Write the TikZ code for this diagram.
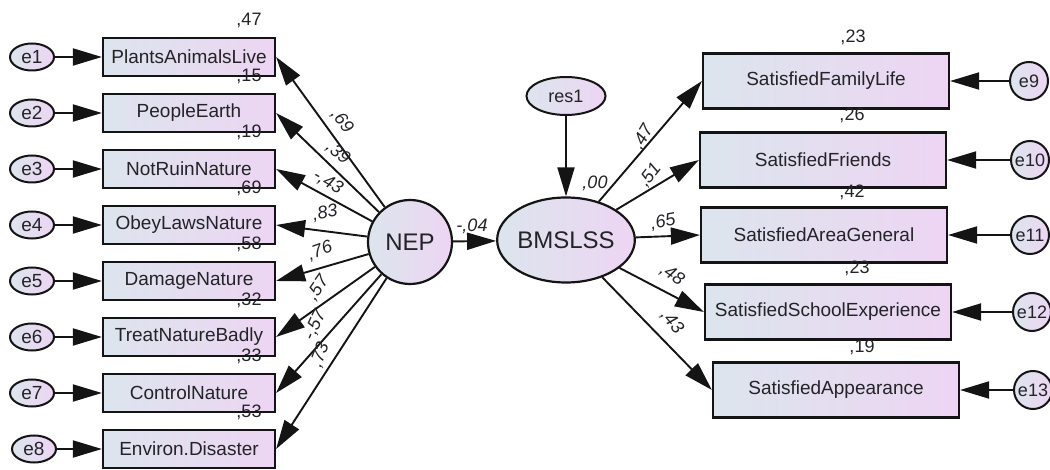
\documentclass[tikz,border=0pt]{standalone}
\usepackage{fontspec}
\setmainfont{Liberation Sans}
\usetikzlibrary{arrows.meta,shapes.geometric}
\definecolor{fillL}{RGB}{220,229,237}
\definecolor{fillR}{RGB}{237,213,243}
\definecolor{ln}{RGB}{20,20,20}
\definecolor{tx}{RGB}{35,35,40}
\begin{document}
\begin{tikzpicture}[x=1pt,y=-1pt,
  obsL/.style={draw=ln, line width=2.2pt, left color=fillL, right color=fillR, minimum width=172pt, minimum height=38pt, inner sep=0pt, text=tx, font=\fontsize{19}{22}\selectfont},
  obsR/.style={obsL, minimum width=246pt, minimum height=55pt},
  errL/.style={ellipse, draw=ln, line width=2pt, left color=fillL, right color=fillR, minimum width=44pt, minimum height=27pt, inner sep=0pt, text=tx, font=\fontsize{19}{22}\selectfont},
  errR/.style={circle, draw=ln, line width=2pt, left color=fillL, right color=fillR, minimum size=38pt, inner sep=0pt, text=tx, font=\fontsize{18}{22}\selectfont},
  lat/.style={draw=ln, line width=2.2pt, left color=fillL, right color=fillR, inner sep=0pt, text=tx, font=\fontsize{24}{28}\selectfont},
  arr/.style={line width=1.9pt, draw=ln, -{Triangle[length=29pt,width=17pt]}},
  lab/.style={font=\fontsize{18}{20}\selectfont\itshape, text=tx, inner sep=0pt},
  rsq/.style={font=\fontsize{18}{20}\selectfont, text=tx, inner sep=0pt}
]
\useasboundingbox (0,0) rectangle (1050,470);
\clip (0,0) rectangle (1050,470);

% latent variables
\node[lat, circle, minimum size=84pt] (NEP) at (410,242) {NEP};
\node[lat, ellipse, minimum width=123pt, minimum height=85pt] (BM) at (566,240) {BMSLSS};
\node[lat, ellipse, minimum width=79pt, minimum height=38pt, font=\fontsize{18}{22}\selectfont, line width=2pt] (res) at (566,96) {res1};

% left observed
\node[obsL] (b1) at (189,57) {PlantsAnimalsLive};
\node[obsL] (b2) at (189,113) {PeopleEarth};
\node[obsL] (b3) at (189,169) {NotRuinNature};
\node[obsL] (b4) at (189,225) {ObeyLawsNature};
\node[obsL] (b5) at (189,281) {DamageNature};
\node[obsL] (b6) at (189,337) {TreatNatureBadly};
\node[obsL] (b7) at (189,393) {ControlNature};
\node[obsL] (b8) at (189,449) {Environ.Disaster};

\node[errL] (e1) at (32,57) {e1};
\node[errL] (e2) at (32,113) {e2};
\node[errL] (e3) at (32,169) {e3};
\node[errL] (e4) at (32,225) {e4};
\node[errL] (e5) at (32,281) {e5};
\node[errL] (e6) at (32,337) {e6};
\node[errL] (e7) at (32,393) {e7};
\node[errL] (e8) at (34,449) {e8};

% right observed
\node[obsR] (r9) at (826,81) {SatisfiedFamilyLife};
\node[obsR] (r10) at (823,160) {SatisfiedFriends};
\node[obsR] (r11) at (824,235) {SatisfiedAreaGeneral};
\node[obsR] (r12) at (828,312) {SatisfiedSchoolExperience};
\node[obsR] (r13) at (836,390) {SatisfiedAppearance};

\node[errR] (e9) at (1029,81) {e9};
\node[errR] (e10) at (1030,160) {e10};
\node[errR] (e11) at (1030,235) {e11};
\node[errR] (e12) at (1032,312) {e12};
\node[errR] (e13) at (1033,390) {e13};

% error arrows
\foreach \i in {1,...,8} \draw[arr] (e\i.east) -- (b\i.west);
\foreach \i in {9,...,13} \draw[arr] (e\i) -- (r\i.east);

% loadings
\foreach \i in {1,...,8} \draw[arr] (NEP) -- (b\i.east);
\foreach \i in {9,...,13} \draw[arr] (BM) -- (r\i.west);
\draw[arr] (NEP) -- (BM);
\draw[arr] (res) -- (BM);

% path labels
\node[lab, rotate=-52] (l1) at (342,121) {,69};
\node[lab, rotate=-40] (l2) at (338,153) {,39};
\node[lab, rotate=-30] (l3) at (328,182) {-,43};
\node[lab, rotate=10] (l4) at (325,213) {,83};
\node[lab, rotate=20] (l5) at (320,251) {,76};
\node[lab, rotate=55] (l6) at (318,288) {,57};
\node[lab, rotate=65] (l7) at (315,325) {-,57};
\node[lab, rotate=70] (l8) at (320,355) {,73};
\node[lab] (l0) at (472,226) {-,04};
\node[lab] (l00) at (595,183) {,00};
\node[lab, rotate=60] (l9) at (643,137) {,47};
\node[lab, rotate=52] (l10) at (650,175) {,51};
\node[lab, rotate=10] (l11) at (663,222) {,65};
\node[lab, rotate=-35] (l12) at (672,275) {,48};
\node[lab, rotate=-50] (l13) at (672,322) {,43};

% squared multiple correlations
\node[rsq] (q1) at (249,20) {,47};
\node[rsq] (q2) at (249,76) {,15};
\node[rsq] (q3) at (249,132) {,19};
\node[rsq] (q4) at (249,188) {,69};
\node[rsq] (q5) at (249,244) {,58};
\node[rsq] (q6) at (249,300) {,32};
\node[rsq] (q7) at (249,356) {,33};
\node[rsq] (q8) at (249,412) {,53};
\node[rsq] (q9) at (853,37) {,23};
\node[rsq] (q10) at (852,115) {,26};
\node[rsq] (q11) at (852,192) {,42};
\node[rsq] (q12) at (857,268) {,23};
\node[rsq] (q13) at (862,347) {,19};
\end{tikzpicture}
\end{document}
